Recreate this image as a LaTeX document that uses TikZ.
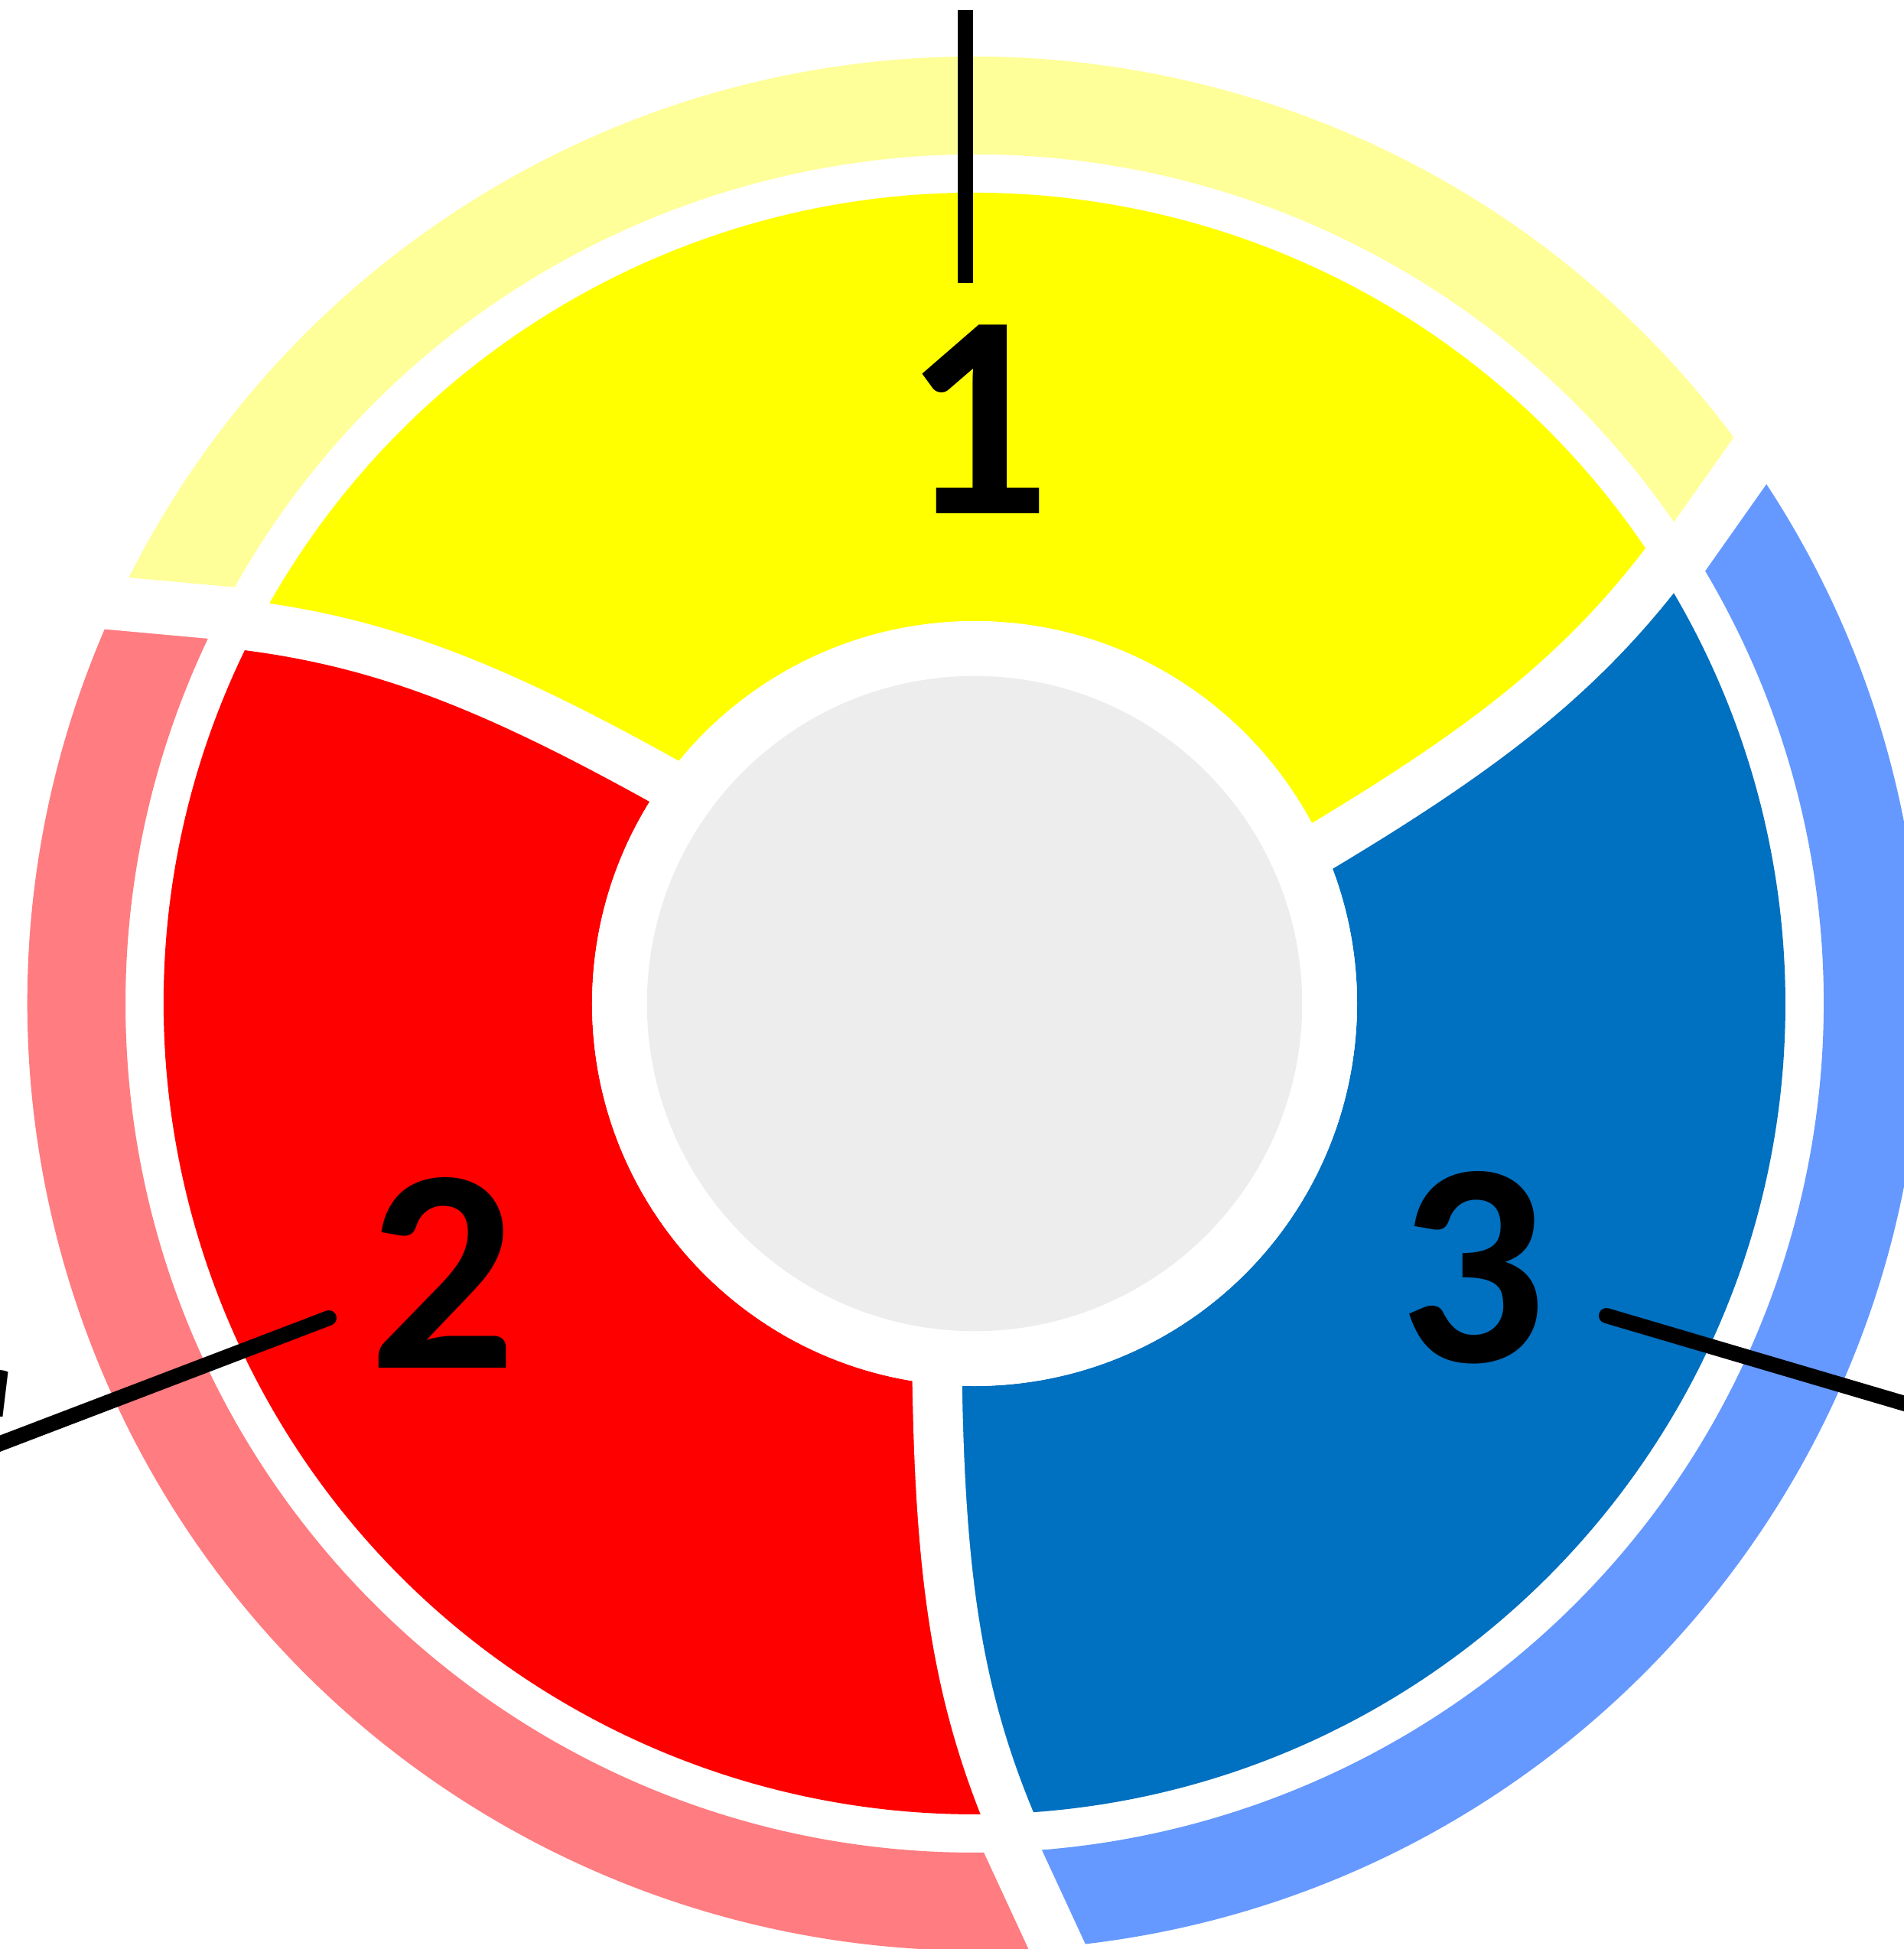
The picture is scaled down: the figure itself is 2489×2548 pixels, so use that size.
\documentclass[tikz,border=0pt]{standalone}
\usepackage{fontspec}
\setmainfont{Carlito}
\usetikzlibrary{calc}
\definecolor{segyellow}{HTML}{FFFF00}
\definecolor{ringyellow}{HTML}{FFFF99}
\definecolor{segred}{HTML}{FF0000}
\definecolor{ringred}{HTML}{FF7C80}
\definecolor{segblue}{HTML}{0070C0}
\definecolor{ringblue}{HTML}{6699FF}
\definecolor{hubgray}{HTML}{EDEDED}
\tikzset{
  segcut/.style={draw=white, line width=0.65cm},
  ringcut/.style={draw=white, line width=0.70cm},
  pointer/.style={draw=black, line width=0.20cm},
  numlabel/.style={font=\fontsize{108}{108}\selectfont\bfseries, inner sep=0pt, text=black},
  sidetext/.style={font=\fontsize{36}{40}\selectfont\itshape, inner sep=0pt, text=black}
}
\begin{document}
\begin{tikzpicture}[x=0.01cm, y=0.01cm]
\useasboundingbox (-1274,-1236) rectangle (1215,1312);
\clip (-1274,-1236) rectangle (1215,1312);
\fill[white] (-1274,-1236) rectangle (1215,1312);

% inner coloured segments
\fill[segyellow] (24.4:500) .. controls (26.6:751.7) and (28.6:900.3) .. (32.3:1060)
  arc[start angle=32.3, end angle=152.3, radius=1060]
  .. controls (148.6:900.3) and (146.6:751.7) .. (144.4:500)
  arc[start angle=144.4, end angle=24.4, radius=500] -- cycle;
\fill[segred] (144.4:500) .. controls (146.6:751.7) and (148.6:900.3) .. (152.3:1060)
  arc[start angle=152.3, end angle=272.3, radius=1060]
  .. controls (268.6:900.3) and (266.6:751.7) .. (264.4:500)
  arc[start angle=264.4, end angle=144.4, radius=500] -- cycle;
\fill[segblue] (264.4:500) .. controls (266.6:751.7) and (268.6:900.3) .. (272.3:1060)
  arc[start angle=272.3, end angle=392.3, radius=1060]
  .. controls (388.6:900.3) and (386.6:751.7) .. (384.4:500)
  arc[start angle=384.4, end angle=264.4, radius=500] -- cycle;

% white cuts between the segments
\draw[segcut] ($(24.4:500)!-0.25!(26.6:751.7)$) -- (24.4:500)
  .. controls (26.6:751.7) and (28.6:900.3) .. (32.3:1060) -- ($(32.3:1060)!-0.3!(28.6:900.3)$);
\draw[segcut] ($(144.4:500)!-0.25!(146.6:751.7)$) -- (144.4:500)
  .. controls (146.6:751.7) and (148.6:900.3) .. (152.3:1060) -- ($(152.3:1060)!-0.3!(148.6:900.3)$);
\draw[segcut] ($(264.4:500)!-0.25!(266.6:751.7)$) -- (264.4:500)
  .. controls (266.6:751.7) and (268.6:900.3) .. (272.3:1060) -- ($(272.3:1060)!-0.3!(268.6:900.3)$);

% central hub
\fill[white] (0,0) circle[radius=500];
\node[circle, fill=hubgray, minimum size=8.56cm, inner sep=0pt] (hub) at (0,0) {};

% outer light ring
\fill[ringyellow] (32.6:1110) -- (35:1238) arc[start angle=35, end angle=155, radius=1238]
  -- (152.6:1110) arc[start angle=152.6, end angle=32.6, radius=1110] -- cycle;
\fill[ringred] (152.6:1110) -- (155:1238) arc[start angle=155, end angle=275, radius=1238]
  -- (272.6:1110) arc[start angle=272.6, end angle=152.6, radius=1110] -- cycle;
\fill[ringblue] (272.6:1110) -- (275:1238) arc[start angle=275, end angle=395, radius=1238]
  -- (392.6:1110) arc[start angle=392.6, end angle=272.6, radius=1110] -- cycle;
\draw[ringcut] ($(32.6:1110)!-0.15!(35:1238)$) -- ($(35:1238)!-0.15!(32.6:1110)$);
\draw[ringcut] ($(152.6:1110)!-0.15!(155:1238)$) -- ($(155:1238)!-0.15!(152.6:1110)$);
\draw[ringcut] ($(272.6:1110)!-0.15!(275:1238)$) -- ($(275:1238)!-0.15!(272.6:1110)$);

% labels
\node[numlabel] (n1) at (3,764) {1};
\node[numlabel] (n2) at (-695,-352) {2};
\node[numlabel] (n3) at (651,-345) {3};
\node[sidetext, anchor=base east] (sidea) at (-1257,-540) {a};

% pointer lines
\coordinate (p1top) at (-12,1299);
\coordinate (p1bot) at (-12,942);
\coordinate (p2in) at (-844,-411);
\coordinate (p2out) at (-1310,-589);
\coordinate (p3in) at (826,-408);
\coordinate (p3out) at (1250,-533);
\draw[pointer, line cap=butt] (p1top) -- (p1bot);
\draw[pointer, line cap=round] (p2in) -- (p2out);
\draw[pointer, line cap=round] (p3in) -- (p3out);
\end{tikzpicture}
\end{document}
